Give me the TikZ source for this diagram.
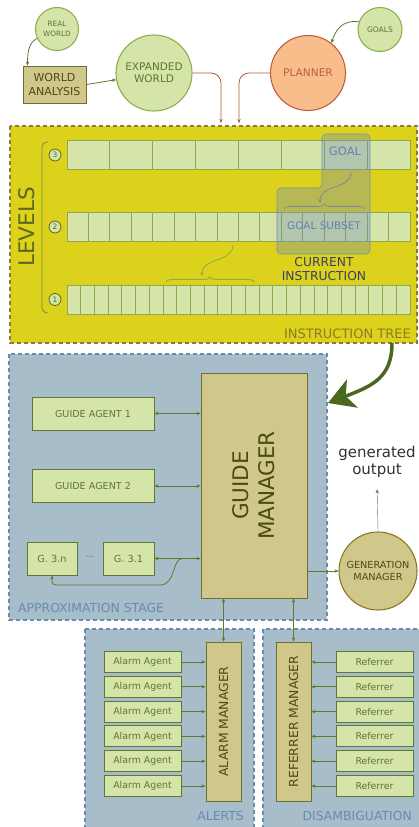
\documentclass[tikz,border=0pt]{standalone}
\usepackage{fontspec}
\setmainfont{DejaVu Sans}
\usetikzlibrary{arrows.meta,decorations.pathreplacing}

\definecolor{leaf}{RGB}{213,228,168}
\definecolor{leafline}{RGB}{140,176,80}
\definecolor{leaftext}{RGB}{90,120,45}
\definecolor{agentline}{RGB}{95,120,45}
\definecolor{khaki}{RGB}{208,200,138}
\definecolor{khakiline}{RGB}{110,110,50}
\definecolor{khakitext}{RGB}{75,75,20}
\definecolor{planner}{RGB}{249,189,140}
\definecolor{plannerline}{RGB}{190,95,60}
\definecolor{tree}{RGB}{221,210,27}
\definecolor{treeline}{RGB}{140,120,70}
\definecolor{treetext}{RGB}{140,125,40}
\definecolor{stage}{RGB}{167,189,201}
\definecolor{stageline}{RGB}{106,138,178}
\definecolor{cellline}{RGB}{140,168,80}
\definecolor{levelink}{RGB}{90,105,30}
\definecolor{goalblue}{RGB}{110,140,190}
\definecolor{goaltext}{RGB}{100,130,175}
\definecolor{instrink}{RGB}{60,60,110}
\definecolor{wire}{RGB}{95,120,45}
\definecolor{bigwire}{RGB}{75,105,30}
\definecolor{redwire}{RGB}{176,88,58}
\definecolor{genline}{RGB}{140,120,35}
\definecolor{outtext}{RGB}{50,50,50}

\newcommand{\fs}[1]{\fontsize{#1}{#1}\selectfont}

\begin{document}
\begin{tikzpicture}[x=1pt,y=-1pt,
  >={Stealth[length=4pt,width=3.4pt]},
  bubble/.style={circle,draw=leafline,fill=leaf,line width=1.1pt,text=leaftext,inner sep=0pt,align=center},
  block/.style={rectangle,draw=khakiline,fill=khaki,line width=0.9pt,text=khakitext,inner sep=0pt,align=center},
  agent/.style={rectangle,draw=agentline,fill=leaf,line width=0.9pt,text=agentline,inner sep=0pt},
  stagebox/.style={draw=stageline,fill=stage,line width=1.1pt,dash pattern=on 4pt off 3pt},
  stagelabel/.style={text=stageline,inner sep=0pt,font=\fontsize{12.4}{14}\selectfont},
  lvlrow/.style={rectangle,draw=cellline,fill=leaf,line width=0.9pt,minimum width=343pt,minimum height=29pt,inner sep=0pt},
  lvlnum/.style={circle,draw=levelink,fill=leaf,line width=0.8pt,text=levelink,minimum size=12pt,inner sep=0pt,font=\fontsize{7.5}{8}\selectfont},
  wire/.style={draw=wire,line width=0.8pt},
  redwire/.style={draw=redwire,line width=0.8pt,->,rounded corners=10pt},
  bigwire/.style={draw=bigwire,line width=3.5pt,-{Stealth[length=26pt,width=30pt,inset=7pt]}},
  goalwire/.style={draw=goalblue!60!gray,line width=0.7pt},
  bracewire/.style={decorate,decoration={brace,amplitude=5pt}}]

\useasboundingbox (0,0) rectangle (419,827);
\clip (0,0) rectangle (419,827);

% containers
\draw[stagebox] (9,354) rectangle (327,620);
\draw[stagebox] (85,629) rectangle (254,840);
\draw[stagebox] (263,629) rectangle (430,840);
\draw[draw=treeline,fill=tree,line width=1.1pt,dash pattern=on 4pt off 3pt] (10,126) rectangle (417,343);

% world model and planner
\node[bubble,minimum size=43pt,font=\fontsize{7.3}{9.4}\selectfont] (realw) at (57,29) {REAL\\WORLD};
\node[block,minimum width=63pt,minimum height=37pt,font=\fontsize{11}{14}\selectfont] (wanal) at (54.5,84.5) {WORLD\\ANALYSIS};
\node[bubble,minimum size=76pt,font=\fontsize{10.5}{12.3}\selectfont] (expw) at (154,73) {EXPANDED\\WORLD};
\node[bubble,draw=plannerline,fill=planner,text=plannerline,minimum size=75pt,font=\fs{10.6}] (plan) at (308,73) {PLANNER};
\node[bubble,minimum size=44pt,font=\fs{7.6}] (goals) at (380,29.5) {GOALS};
\coordinate (treeinl) at (221,123);
\coordinate (treeinr) at (239,123);

\draw[wire,->] (realw.205) .. controls +(-9,5) and +(0,-12) .. ([xshift=5pt]wanal.north west);
\draw[wire,->] (wanal.east) -- (expw.190);
\draw[wire,->] (goals.160) .. controls +(-18,-2) and +(4,-12) .. (plan.52);
\draw[redwire] (expw.east) -| (treeinl);
\draw[redwire] (plan.west) -| (treeinr);

% instruction tree
\node[lvlrow] (lv3) at (238.5,155) {};
\node[lvlrow] (lv2) at (238.5,227) {};
\node[lvlrow] (lv1) at (238.5,299.5) {};
\foreach \i in {1,...,7}
\draw[cellline,line width=0.9pt] (67+\i*42.875,140.5) -- ++(0,29);
\foreach \i in {1,...,15}
\draw[cellline,line width=0.9pt] (67+\i*21.4375,212.5) -- ++(0,29);
\foreach \i in {1,...,24}
\draw[cellline,line width=0.9pt] (67+\i*13.72,285) -- ++(0,29);
\node[lvlnum] (num3) at (55,155) {3};
\node[lvlnum] (num2) at (55,227) {2};
\node[lvlnum] (num1) at (55,299.5) {1};
\draw[leafline!80!black,line width=0.8pt,rounded corners=5pt] (48,142) -- (42,142) -- (42,313) -- (48,313);
\node[rotate=90,text=levelink,font=\fontsize{21.5}{24}\selectfont] (levels) at (26.5,227) {LEVELS};

\draw[goalblue,fill=goalblue,fill opacity=0.35,draw opacity=0.5,line width=1.2pt,rounded corners=4pt]
  (322,134) -- (370,134) -- (370,254) -- (277,254) -- (277,188) -- (322,188) -- cycle;
\node[text=goaltext,font=\fs{11.5}] (goal) at (345,151) {GOAL};
\node[text=goaltext,font=\fs{10.5}] (subset) at (324,226) {GOAL SUBSET};
\draw[goalwire,bracewire] (284,209) -- (365,209);
\coordinate (goaltail) at (351,172);
\coordinate (subsettop) at (320,203);
\draw[goalwire,->] (goaltail) .. controls (351,190) and (320,184) .. (subsettop);

\draw[cellline,line width=0.8pt,bracewire] (166,282) -- (254,282);
\coordinate (rowtail) at (233,245);
\coordinate (rowtop) at (202,276);
\draw[cellline,line width=0.8pt,->] (rowtail) .. controls (233,263) and (202,257) .. (rowtop);
\node[text=instrink,align=center,font=\fontsize{12.3}{14}\selectfont] (curinstr) at (324,269.5) {CURRENT\\INSTRUCTION};
\node[text=treetext,anchor=base east,inner sep=0pt,font=\fontsize{13}{15}\selectfont] (treelbl) at (411,338) {INSTRUCTION TREE};

\coordinate (treeout) at (392,343);
\coordinate (stagein) at (328,403);
\draw[bigwire] (treeout) .. controls (392,378) and (372,386) .. (stagein);

% approximation stage
\node[block,rotate=90,minimum width=225pt,minimum height=106pt,font=\fontsize{21.5}{26}\selectfont] (gm) at (254,485.5) {GUIDE\\MANAGER};
\node[agent,minimum width=122pt,minimum height=33pt,font=\fs{9.6}] (ga1) at (93,413.5) {GUIDE AGENT 1};
\node[agent,minimum width=122pt,minimum height=33pt,font=\fs{9.6}] (ga2) at (93,486) {GUIDE AGENT 2};
\node[agent,minimum width=50pt,minimum height=33pt,font=\fs{9.8}] (g3n) at (52,558.5) {G. 3.n};
\node[agent,minimum width=51pt,minimum height=33pt,font=\fs{9.8}] (g31) at (128.5,558.5) {G. 3.1};
\node[text=agentline,font=\fs{9}] (gdots) at (90,557) {...};
\draw[wire,<->] (ga1.east) -- (ga1.east -| gm.north);
\draw[wire,<->] (ga2.east) -- (ga2.east -| gm.north);
\draw[wire,<->] (g31.east) -- (g31.east -| gm.north);
\coordinate (split) at (182,558.5);
\draw[wire,->] (split) .. controls (172,559) and (176,585) .. (160,585) -- (60,585) .. controls (52,585) .. (g3n.south);
\node[stagelabel,anchor=base west] (apxlbl) at (18,612) {APPROXIMATION STAGE};

\node[bubble,draw=genline,fill=khaki,text=khakitext,minimum size=78pt,font=\fontsize{9.7}{11.7}\selectfont] (genm) at (378,571) {GENERATION\\MANAGER};
\node[text=outtext,align=center,font=\fontsize{15}{17}\selectfont] (genout) at (377,462) {generated\\output};
\draw[wire,->] (gm.south |- genm.west) -- (genm.west);
\draw[wire!60!gray,->,shorten >=8pt] (genm.north) -- (genout.south);

% alerts and disambiguation
\node[block,rotate=90,minimum width=159pt,minimum height=35pt,font=\fs{12.4}] (am) at (223.5,721.5) {ALARM MANAGER};
\node[block,rotate=90,minimum width=159pt,minimum height=35pt,font=\fs{12.4}] (rm) at (293.5,721.5) {REFERRER MANAGER};
\draw[wire,<->] (am.east |- gm.west) -- (am.east);
\draw[wire,<->] (rm.east |- gm.west) -- (rm.east);
\foreach \y [count=\i] in {662,686.8,711.6,736.4,761.2,786} {
  \node[agent,minimum width=77pt,minimum height=21pt,font=\fs{9.4}] (alarm\i) at (142.5,\y) {Alarm Agent};
  \node[agent,minimum width=77pt,minimum height=21pt,font=\fs{9.4}] (refr\i) at (374.5,\y) {Referrer};
  \draw[wire,->] (alarm\i.east) -- (alarm\i.east -| am.north);
  \draw[wire,->] (refr\i.west) -- (refr\i.west -| rm.south);
}
\node[stagelabel,anchor=base east] (alertlbl) at (244,820) {ALERTS};
\node[stagelabel,anchor=base east] (disamblbl) at (412,820) {DISAMBIGUATION};
\end{tikzpicture}
\end{document}
